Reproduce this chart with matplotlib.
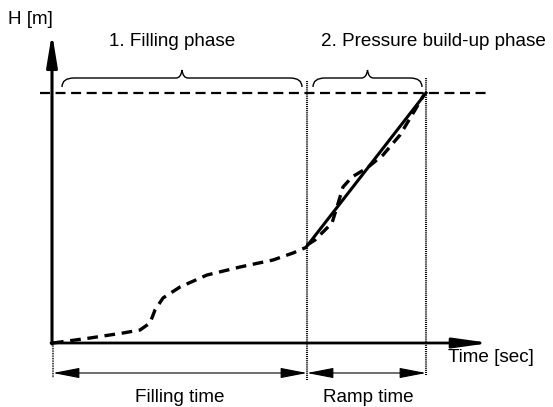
import matplotlib
matplotlib.use("Agg")
import matplotlib.pyplot as plt
from matplotlib.path import Path
from matplotlib.patches import PathPatch

plt.rcParams['font.family'] = ['Liberation Sans', 'DejaVu Sans']

# Data (time units ~ horizontal, H units ~ vertical; origin at axes crossing)
fill_t = [1, 38, 71, 88, 98, 103, 111, 128, 155, 188, 221, 241, 255]
fill_h = [0, 5, 10, 13, 20, 33, 45, 56, 68, 76, 83, 90, 96]
ramp_t = [255, 263, 280, 285, 291, 300, 315, 331, 348, 363, 373]
ramp_h = [98, 103, 120, 136, 156, 166, 175, 188, 208, 233, 250]
lin_t = [255, 374]
lin_h = [97, 250]
t_fill_end = 255
t_ramp_end = 374
h_target = 250

FS = 13.6

fig = plt.figure(figsize=(5.53, 4.07), dpi=100)
ax = fig.add_axes([0, 0, 1, 1])
ax.set_xlim(-52, 501)
ax.set_ylim(-64, 343)
ax.axis('off')

# axes arrows
ax.annotate('', xy=(0, 310), xytext=(0, -1),
            arrowprops=dict(arrowstyle='-|>,head_length=1.95,head_width=0.32', lw=2.2, color='black',
                            shrinkA=0, shrinkB=0))
ax.annotate('', xy=(438, 0), xytext=(-1, 0),
            arrowprops=dict(arrowstyle='-|>,head_length=2.15,head_width=0.3', lw=2.0, color='black',
                            shrinkA=0, shrinkB=0))

# target level dashed
ax.plot([-12, 435], [h_target, h_target], color='black', lw=1.6, ls=(0, (4.5, 2.5)))

# vertical dotted lines
ax.plot([t_fill_end, t_fill_end], [-37, 263], color='black', lw=1.5, ls=(0, (0.5, 0.5)))
ax.plot([t_ramp_end, t_ramp_end], [-32, 265], color='black', lw=1.5, ls=(0, (0.5, 0.5)))
ax.plot([1, 1], [0, -35], color='black', lw=1.2, ls=(0, (0.5, 0.5)))

# curves
ax.plot(fill_t, fill_h, color='black', lw=2.4, ls=(0, (3.2, 2.0)))
ax.plot(ramp_t, ramp_h, color='black', lw=2.4, ls=(0, (3.2, 2.0)))
ax.plot(lin_t, lin_h, color='black', lw=2.2)

# dimension arrows
for a, b in [(1, t_fill_end), (t_fill_end, t_ramp_end)]:
    ax.annotate('', xy=(b, -30), xytext=(a, -30),
                arrowprops=dict(arrowstyle='<|-|>,head_length=1.65,head_width=0.32', lw=0.8,
                                color='black', shrinkA=0, shrinkB=0))

# braces
def brace(x0, x1, yb, up=8, down=9):
    xm = (x0 + x1) / 2
    verts = [(x0, yb - down), (x0, yb), (x0 + 12, yb),
             (xm - 6, yb),
             (xm - 1, yb), (xm, yb + up),
             (xm + 1, yb), (xm + 6, yb),
             (x1 - 12, yb),
             (x1, yb), (x1, yb - down)]
    codes = [Path.MOVETO, Path.CURVE3, Path.CURVE3,
             Path.LINETO,
             Path.CURVE3, Path.CURVE3,
             Path.CURVE3, Path.CURVE3,
             Path.LINETO,
             Path.CURVE3, Path.CURVE3]
    ax.add_patch(PathPatch(Path(verts, codes), fill=False, lw=1.0, color='black'))

brace(10, 250, 265)
brace(261, 370, 265)

ax.text(-44, 323, 'H [m]', fontsize=FS, ha='left', va='center')
ax.text(120, 301, '1. Filling phase', fontsize=FS, ha='center', va='center')
ax.text(381, 301, '2. Pressure build-up phase', fontsize=FS, ha='center', va='center')
ax.text(396, -15, 'Time [sec]', fontsize=FS, ha='left', va='center')
ax.text(128, -54, 'Filling time', fontsize=FS, ha='center', va='center')
ax.text(316, -54, 'Ramp time', fontsize=FS, ha='center', va='center')

fig.savefig('out.png', dpi=100)
